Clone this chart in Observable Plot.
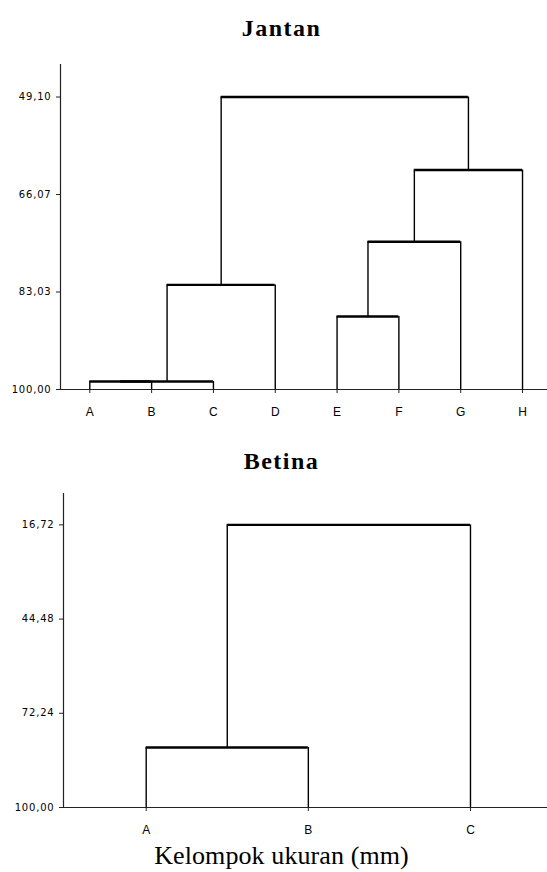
<!DOCTYPE html>
<html>
<head>
<meta charset="utf-8">
<script src="https://cdn.jsdelivr.net/npm/d3@7"></script>
<script src="https://cdn.jsdelivr.net/npm/@observablehq/plot@0.6"></script>
<style>
  body { margin: 0; background: #fff; }
  #page { position: relative; width: 547px; height: 872px; overflow: hidden; background: #fff; }
  .title { position: absolute; left: 8px; width: 547px; text-align: center;
           font-family: "Liberation Serif", "Times New Roman", serif; font-weight: bold;
           font-size: 24px; letter-spacing: 1.5px; line-height: 1; color: #000; }
  .caption { position: absolute; left: 8px; width: 547px; text-align: center;
             font-family: "Liberation Serif", "Times New Roman", serif;
             font-size: 26px; letter-spacing: 0.1px; line-height: 1; color: #000; }
  .plot { position: absolute; left: 0; }
  .ylab text { font-family: "DejaVu Sans", sans-serif; font-size: 10px; letter-spacing: 0.8px; }
  .xlab text { font-family: "Liberation Sans", Arial, sans-serif; font-size: 12px; }
</style>
</head>
<body>
<div id="page">
  <div class="title" style="top:16px">Jantan</div>
  <div id="p1" class="plot" style="top:45px"></div>
  <div class="title" style="top:449px">Betina</div>
  <div id="p2" class="plot" style="top:480px"></div>
  <div class="caption" style="top:843px">Kelompok ukuran (mm)</div>
</div>
<script>
// ---- Data ----
// Leaves (cluster members) in dendrogram order
const jantanLeaves = ["A", "B", "C", "D", "E", "F", "G", "H"];
// Merges: [child index, child index, similarity level]; leaves are 0..n-1, new clusters n, n+1, ...
const jantanMerges = [
  [0, 1, 98.6],
  [8, 2, 98.6],
  [9, 3, 81.8],
  [4, 5, 87.3],
  [11, 6, 74.3],
  [12, 7, 61.8],
  [10, 13, 49.10]
];
const jantanTicks = [49.10, 66.07, 83.03, 100.00];

const betinaLeaves = ["A", "B", "C"];
const betinaMerges = [
  [0, 1, 82.3],
  [3, 2, 16.72]
];
const betinaTicks = [16.72, 44.48, 72.24, 100.00];

const baseLevel = 100;

// ---- Build dendrogram segments ----
function dendro(leaves, merges) {
  const nodes = leaves.map((name, i) => ({x: i, h: baseLevel}));
  const horiz = [], vert = [];
  for (const [a, b, h] of merges) {
    const A = nodes[a], B = nodes[b];
    horiz.push({x1: A.x, x2: B.x, y: h});
    vert.push({x: A.x, y1: A.h, y2: h});
    vert.push({x: B.x, y1: B.h, y2: h});
    nodes.push({x: (A.x + B.x) / 2, h});
  }
  return {horiz, vert};
}

const fmt = d => d3.format(".2f")(d).replace(".", ",");

function makePlot({leaves, merges, ticks, xDomain, yTop, height, marginTop, marginBottom, marginLeft}) {
  const {horiz, vert} = dendro(leaves, merges);
  const plot = Plot.plot({
    width: 547,
    height,
    marginTop,
    marginBottom,
    marginLeft,
    marginRight: 0,
    x: {type: "linear", domain: xDomain},
    y: {domain: [baseLevel, yTop]},
    style: {background: "transparent", color: "#000"},
    marks: [
      Plot.ruleX([xDomain[0]], {stroke: "#222", strokeWidth: 1.2}),
      Plot.ruleY([baseLevel], {stroke: "#222", strokeWidth: 1.2}),
      Plot.axisY({
        ticks, tickFormat: fmt, tickSize: 4, tickPadding: 5,
        label: null, stroke: "#222"
      }),
      Plot.axisX({
        ticks: d3.range(leaves.length), tickFormat: i => leaves[i],
        tickSize: 4, tickPadding: 14,
        label: null, stroke: "#222"
      }),
      Plot.ruleX(vert, {x: "x", y1: "y1", y2: "y2", stroke: "#000", strokeWidth: 1.4}),
      Plot.ruleY(horiz, {x1: "x1", x2: "x2", y: "y", stroke: "#000", strokeWidth: 2.4})
    ]
  });
  d3.select(plot).selectAll('g[aria-label="y-axis tick label"]')
    .classed("ylab", true).attr("font-size", 10).attr("font-family", "DejaVu Sans");
  d3.select(plot).selectAll('g[aria-label="x-axis tick label"]')
    .classed("xlab", true).attr("font-size", 12).attr("font-family", "Liberation Sans");
  return plot;
}

document.getElementById("p1").appendChild(makePlot({
  leaves: jantanLeaves, merges: jantanMerges, ticks: jantanTicks,
  xDomain: [-0.474, 7.404], yTop: 43.44,
  height: 375, marginTop: 19, marginBottom: 31, marginLeft: 60
}));
document.getElementById("p2").appendChild(makePlot({
  leaves: betinaLeaves, merges: betinaMerges, ticks: betinaTicks,
  xDomain: [-0.51, 2.475], yTop: 7.47,
  height: 360, marginTop: 13, marginBottom: 33, marginLeft: 63
}));
</script>
</body>
</html>
